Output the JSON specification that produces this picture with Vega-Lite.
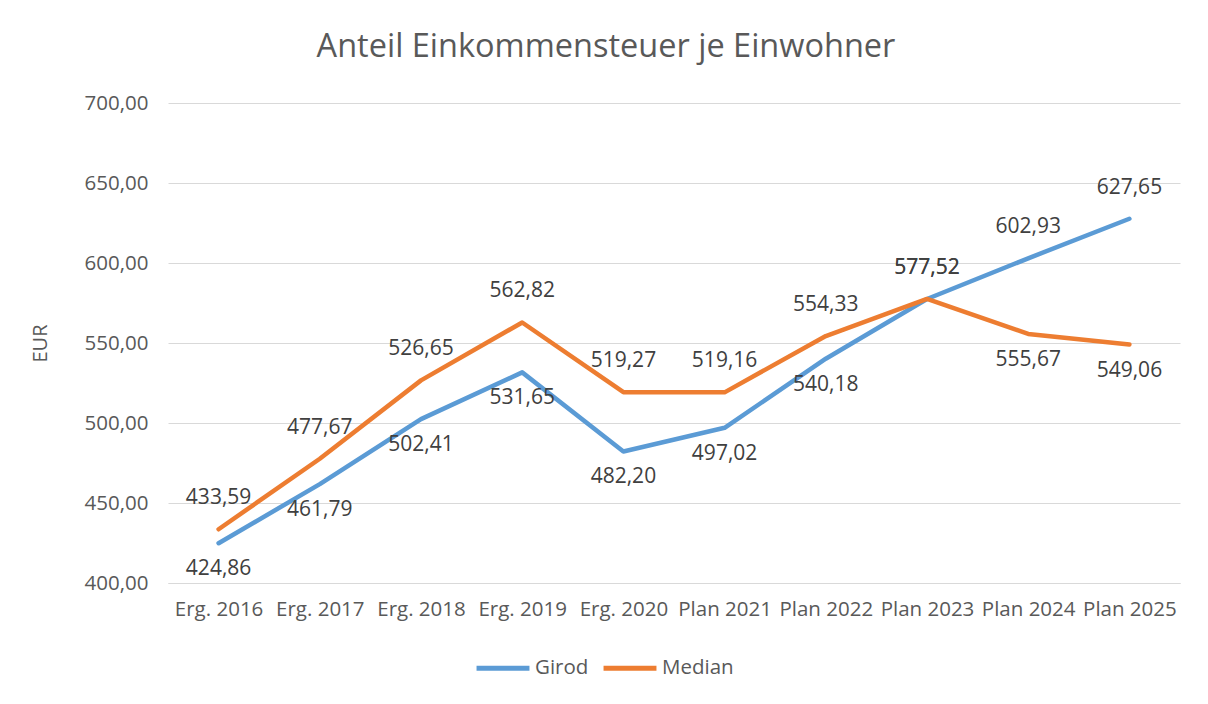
{
  "$schema": "https://vega.github.io/schema/vega-lite/v6.json",
  "width": 1012,
  "height": 480,
  "autosize": "none",
  "padding": {"left": 168, "top": 103, "right": 28, "bottom": 121},
  "background": "white",
  "config": {
    "locale": {"number": {"decimal": ",", "thousands": ".", "grouping": [3], "currency": ["", " €"]}},
    "font": "Open Sans",
    "view": {"stroke": null}
  },
  "title": {
    "text": "Anteil Einkommensteuer je Einwohner",
    "fontSize": 32.5,
    "fontWeight": "normal",
    "color": "#595959",
    "anchor": "middle",
    "dx": -68,
    "offset": 30
  },
  "data": {
    "values": [
      {"jahr": "Erg. 2016", "reihe": "Girod", "wert": 424.86},
      {"jahr": "Erg. 2017", "reihe": "Girod", "wert": 461.79},
      {"jahr": "Erg. 2018", "reihe": "Girod", "wert": 502.41},
      {"jahr": "Erg. 2019", "reihe": "Girod", "wert": 531.65},
      {"jahr": "Erg. 2020", "reihe": "Girod", "wert": 482.20},
      {"jahr": "Plan 2021", "reihe": "Girod", "wert": 497.02},
      {"jahr": "Plan 2022", "reihe": "Girod", "wert": 540.18},
      {"jahr": "Plan 2023", "reihe": "Girod", "wert": 577.52},
      {"jahr": "Plan 2024", "reihe": "Girod", "wert": 602.93},
      {"jahr": "Plan 2025", "reihe": "Girod", "wert": 627.65},
      {"jahr": "Erg. 2016", "reihe": "Median", "wert": 433.59},
      {"jahr": "Erg. 2017", "reihe": "Median", "wert": 477.67},
      {"jahr": "Erg. 2018", "reihe": "Median", "wert": 526.65},
      {"jahr": "Erg. 2019", "reihe": "Median", "wert": 562.82},
      {"jahr": "Erg. 2020", "reihe": "Median", "wert": 519.27},
      {"jahr": "Plan 2021", "reihe": "Median", "wert": 519.16},
      {"jahr": "Plan 2022", "reihe": "Median", "wert": 554.33},
      {"jahr": "Plan 2023", "reihe": "Median", "wert": 577.52},
      {"jahr": "Plan 2024", "reihe": "Median", "wert": 555.67},
      {"jahr": "Plan 2025", "reihe": "Median", "wert": 549.06}
    ]
  },
  "encoding": {
    "x": {
      "field": "jahr",
      "type": "nominal",
      "sort": null,
      "scale": {"type": "point", "padding": 0.5},
      "axis": {
        "title": null,
        "labelAngle": 0,
        "labelFontSize": 20.5,
        "labelColor": "#595959",
        "ticks": false,
        "domainColor": "#d9d9d9",
        "domainWidth": 1,
        "labelPadding": 16,
        "grid": false
      }
    },
    "y": {
      "field": "wert",
      "type": "quantitative",
      "scale": {"domain": [400, 700], "nice": false, "zero": false},
      "axis": {
        "title": "EUR",
        "titleFontSize": 20,
        "titleFontWeight": "normal",
        "titleColor": "#595959",
        "titlePadding": 34,
        "values": [400, 450, 500, 550, 600, 650, 700],
        "format": ".2f",
        "labelFontSize": 20.5,
        "labelColor": "#595959",
        "labelPadding": 20,
        "gridColor": "#d9d9d9",
        "domain": false,
        "ticks": false
      }
    }
  },
  "layer": [
    {
      "mark": {"type": "line", "strokeWidth": 4.5, "strokeCap": "round", "strokeJoin": "round"},
      "encoding": {
        "color": {
          "field": "reihe",
          "type": "nominal",
          "scale": {"domain": ["Girod", "Median"], "range": ["#5B9BD5", "#ED7D31"]},
          "legend": {
            "title": null,
            "orient": "none",
            "direction": "horizontal",
            "legendX": 306,
            "legendY": 536,
            "symbolType": "stroke",
            "symbolStrokeWidth": 5,
            "symbolSize": 2800,
            "labelFontSize": 20.5,
            "labelColor": "#595959",
            "columnPadding": 4,
            "labelOffset": 3
          }
        }
      }
    },
    {
      "transform": [
        {"filter": "(datum.reihe == 'Median' && indexof(['Plan 2024','Plan 2025'], datum.jahr) < 0) || (datum.reihe == 'Girod' && indexof(['Plan 2023','Plan 2024','Plan 2025'], datum.jahr) >= 0)"}
      ],
      "mark": {"type": "text", "dy": -31, "fontSize": 21, "color": "#404040", "baseline": "middle"},
      "encoding": {"text": {"field": "wert", "type": "quantitative", "format": ".2f"}}
    },
    {
      "transform": [
        {"filter": "!((datum.reihe == 'Median' && indexof(['Plan 2024','Plan 2025'], datum.jahr) < 0) || (datum.reihe == 'Girod' && indexof(['Plan 2023','Plan 2024','Plan 2025'], datum.jahr) >= 0))"}
      ],
      "mark": {"type": "text", "dy": 26, "fontSize": 21, "color": "#404040", "baseline": "middle"},
      "encoding": {"text": {"field": "wert", "type": "quantitative", "format": ".2f"}}
    }
  ]
}
